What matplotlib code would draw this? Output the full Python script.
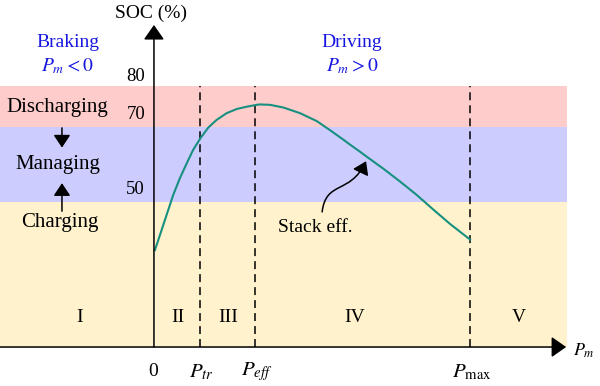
"""SOC strategy sketch: stack efficiency curve over the P_m operating regions."""
import matplotlib
matplotlib.use("Agg")
import matplotlib.pyplot as plt
from matplotlib.patches import FancyArrowPatch, Rectangle
from matplotlib.path import Path

plt.rcParams.update({
    "font.family": ["Liberation Serif", "DejaVu Serif"],
    "mathtext.fontset": "stix",
    "font.size": 14,
})

# values (P_m in arbitrary units, P_max = 100; SOC in %)
P_MARKS = [14.6, 32.0, 100.0]                 # P_tr, P_eff, P_max
P_MARK_LABELS = [r"$P_{tr}$", r"$P_{eff}$", r"$P_{\mathrm{max}}$"]
SOC_TICKS = [80, 70, 50]
BANDS = [(66.7, 77.5, "#ffcccc"), (46.8, 66.7, "#ccccff"), (8.5, 46.8, "#fff2cc")]
REGIONS = ["I", "II", "III", "IV", "V"]
REGION_X = [-23.4, 7.6, 23.4, 63.6, 115.5]

curve_p = [0.3, 1.9, 4.0, 6.1, 8.2, 10.4, 12.4, 14.8, 17.2, 19.8, 23.0,
           26.2, 29.3, 32.5, 33.5, 36.7, 40.9, 46.2, 51.5, 55.7, 59.9,
           62.0, 65.2, 67.3, 72.6, 77.9, 83.1, 88.4, 93.7, 100.0]
curve_soc = [34.1, 38.1, 43.4, 48.7, 53.1, 57.1, 60.6, 63.8, 66.5, 68.5, 70.3,
             71.4, 72.0, 72.5, 72.6, 72.5, 71.8, 70.3, 68.2, 65.8, 63.3,
             62.0, 60.1, 58.8, 55.6, 52.2, 48.7, 44.8, 41.0, 36.9]

X_LEFT, X_RIGHT = -48.7, 141.1
Y_BOT, Y_TOP = -1.8, 100.2
AX_Y = 8.5          # SOC level where the P_m axis sits
BAND_RIGHT = 130.7

BLUE = "#1616e0"
TEAL = "#17907f"

fig = plt.figure(figsize=(6, 3.86), dpi=100)
ax = fig.add_axes([0, 0, 1, 1])
ax.set_xlim(X_LEFT, X_RIGHT)
ax.set_ylim(Y_BOT, Y_TOP)
ax.axis("off")

for lo, hi, col in BANDS:
    ax.add_patch(Rectangle((X_LEFT, lo), BAND_RIGHT - X_LEFT, hi - lo,
                           facecolor=col, edgecolor="none", zorder=0))

for p in P_MARKS:
    ax.plot([p, p], [AX_Y, BANDS[0][1]], color="black", lw=1.1,
            linestyle=(0, (5.2, 3.3)), zorder=2)

ax.plot(curve_p, curve_soc, color=TEAL, lw=1.5, zorder=3,
        solid_joinstyle="round")

# axes with arrow heads
head = "-|>,head_length=0.5,head_width=0.35"
ax.annotate("", xy=(0, 93.6), xytext=(0, AX_Y),
            arrowprops=dict(arrowstyle=head, color="black", lw=1.1,
                            mutation_scale=18, shrinkA=0, shrinkB=0), zorder=4)
ax.annotate("", xy=(130.4, AX_Y), xytext=(X_LEFT, AX_Y),
            arrowprops=dict(arrowstyle=head, color="black", lw=1.1,
                            mutation_scale=18, shrinkA=0, shrinkB=0), zorder=4)

ax.text(-1.0, 96.8, "SOC (%)", ha="center", va="center")
ax.text(132.6, 7.6, r"$P_m$", ha="left", va="center", fontsize=13)

for s in SOC_TICKS:
    ax.text(-2.8, s, str(s), ha="right", va="center", fontsize=13.5)

ax.text(-0.3, 1.9, "0", ha="center", va="center")
for p, lab in zip(P_MARKS, P_MARK_LABELS):
    ax.text(p + 0.5, 1.9, lab, ha="center", va="center", fontsize=15)

for x, lab in zip(REGION_X, REGIONS):
    ax.text(x, 16.2, lab, ha="center", va="center")

ax.text(-27.2, 89.1, "Braking", color=BLUE, ha="center", va="center")
ax.text(-27.2, 82.6, r"$P_m < 0$", color=BLUE, ha="center", va="center")
ax.text(62.7, 89.1, "Driving", color=BLUE, ha="center", va="center")
ax.text(62.7, 82.6, r"$P_m > 0$", color=BLUE, ha="center", va="center")

ax.text(-30.7, 71.7, "Discharging", ha="center", va="center", fontsize=15)
ax.text(-30.4, 56.6, "Managing", ha="center", va="center", fontsize=15)
ax.text(-29.7, 41.5, "Charging", ha="center", va="center", fontsize=15)
small = "-|>,head_length=0.45,head_width=0.3"
ax.annotate("", xy=(-29.1, 61.2), xytext=(-29.1, 66.4),
            arrowprops=dict(arrowstyle=small, color="black", lw=1.1,
                            mutation_scale=17, shrinkA=0, shrinkB=0))
ax.annotate("", xy=(-29.1, 51.8), xytext=(-29.1, 44.4),
            arrowprops=dict(arrowstyle=small, color="black", lw=1.1,
                            mutation_scale=17, shrinkA=0, shrinkB=0))

ax.text(50.9, 40.0, "Stack eff.", ha="center", va="center")
wave = Path([(53.2, 44.2), (54.4, 52.6), (62.0, 48.7), (67.1, 57.6)],
            [Path.MOVETO, Path.CURVE4, Path.CURVE4, Path.CURVE4])
ax.add_patch(FancyArrowPatch(path=wave, arrowstyle=small, color="black",
                             lw=1.1, mutation_scale=17, zorder=4))

fig.savefig("out.png", dpi=100)
